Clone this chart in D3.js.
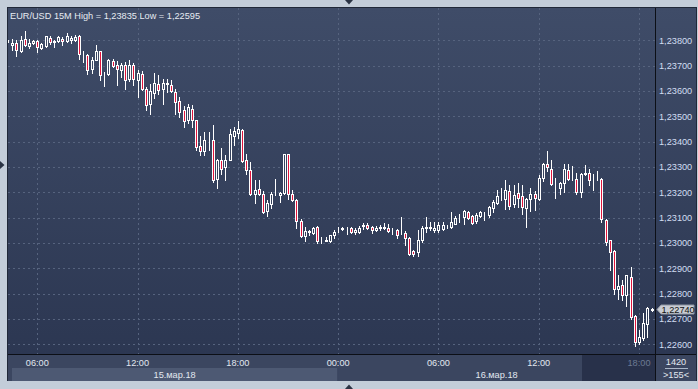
<!DOCTYPE html>
<html>
<head>
<meta charset="utf-8">
<script src="https://cdn.jsdelivr.net/npm/d3@7"></script>
<style>
	body { margin: 0; background: #c3cdd9; }
	svg { display: block; }
	text { font-family: "Liberation Sans", Arial, sans-serif; font-size: 9.2px; }
</style>
</head>
<body>
<div id="chart"></div>
<script>
// chart data
var title = "EUR/USD 15M  High = 1,23835 Low = 1,22595";
var firstBar = "2018-03-15 04:15";
var barMinutes = 15;
var dayLabels = ["15.мар.18", "16.мар.18"];
var lastPrice = 1.22740;
var scrollPos = "1420";
var barsShown = ">155<";

var open = [1.23797,1.23783,1.23791,1.23757,1.23804,1.23777,1.23791,1.23796,1.23770,1.23777,
	1.23811,1.23795,1.23797,1.23804,1.23796,1.23800,1.23800,1.23817,1.23745,1.23741,
	1.23685,1.23724,1.23757,1.23666,1.23668,1.23717,1.23701,1.23684,1.23704,1.23646,
	1.23701,1.23645,1.23668,1.23609,1.23550,1.23592,1.23629,1.23609,1.23630,1.23622,
	1.23596,1.23559,1.23524,1.23484,1.23530,1.23484,1.23381,1.23363,1.23404,1.23405,
	1.23251,1.23329,1.23300,1.23329,1.23422,1.23434,1.23445,1.23326,1.23289,1.23192,
	1.23214,1.23195,1.23126,1.23152,1.23193,1.23191,1.23197,1.23350,1.23195,1.23171,
	1.23086,1.23026,1.23044,1.23040,1.23062,1.23009,1.23009,1.23007,1.23032,1.23051,
	1.23057,1.23059,1.23060,1.23043,1.23043,1.23068,1.23069,1.23062,1.23050,1.23061,
	1.23061,1.23060,1.23051,1.23052,1.23040,1.23041,1.23021,1.22967,1.22964,1.23010,
	1.23061,1.23061,1.23050,1.23050,1.23056,1.23065,1.23062,1.23076,1.23101,1.23102,
	1.23122,1.23105,1.23086,1.23105,1.23115,1.23112,1.23139,1.23157,1.23176,1.23175,
	1.23204,1.23152,1.23198,1.23184,1.23138,1.23175,1.23192,1.23175,1.23258,1.23310,
	1.23293,1.23229,1.23218,1.23236,1.23289,1.23256,1.23254,1.23201,1.23271,1.23277,
	1.23253,1.23256,1.23254,1.23089,1.23010,1.22967,1.22819,1.22836,1.22796,1.22865,
	1.22711,1.22608,1.22626,1.22681,1.22734];
var high = [1.23800,1.23804,1.23800,1.23817,1.23835,1.23804,1.23800,1.23800,1.23791,1.23817,
	1.23817,1.23803,1.23817,1.23813,1.23830,1.23817,1.23822,1.23822,1.23757,1.23744,
	1.23734,1.23780,1.23757,1.23675,1.23728,1.23725,1.23718,1.23712,1.23714,1.23721,
	1.23712,1.23682,1.23678,1.23616,1.23626,1.23672,1.23662,1.23649,1.23649,1.23645,
	1.23606,1.23576,1.23539,1.23547,1.23543,1.23486,1.23421,1.23437,1.23438,1.23464,
	1.23333,1.23376,1.23346,1.23451,1.23458,1.23481,1.23451,1.23353,1.23319,1.23247,
	1.23250,1.23204,1.23168,1.23201,1.23251,1.23200,1.23352,1.23352,1.23211,1.23175,
	1.23096,1.23062,1.23053,1.23062,1.23065,1.23023,1.23023,1.23032,1.23050,1.23062,
	1.23062,1.23062,1.23062,1.23060,1.23065,1.23080,1.23078,1.23066,1.23065,1.23069,
	1.23080,1.23076,1.23060,1.23056,1.23102,1.23048,1.23023,1.22974,1.23050,1.23065,
	1.23102,1.23082,1.23082,1.23082,1.23082,1.23069,1.23122,1.23105,1.23115,1.23131,
	1.23128,1.23109,1.23119,1.23128,1.23122,1.23144,1.23168,1.23211,1.23217,1.23250,
	1.23227,1.23227,1.23238,1.23227,1.23176,1.23218,1.23205,1.23267,1.23315,1.23362,
	1.23329,1.23258,1.23240,1.23310,1.23310,1.23302,1.23277,1.23276,1.23306,1.23293,
	1.23271,1.23284,1.23256,1.23093,1.23012,1.22971,1.22872,1.22852,1.22875,1.22905,
	1.22714,1.22657,1.22724,1.22749,1.22742];
var low = [1.23794,1.23760,1.23738,1.23754,1.23777,1.23770,1.23784,1.23754,1.23767,1.23773,
	1.23787,1.23773,1.23793,1.23780,1.23793,1.23791,1.23797,1.23725,1.23714,1.23665,
	1.23671,1.23721,1.23642,1.23620,1.23662,1.23694,1.23625,1.23655,1.23606,1.23639,
	1.23625,1.23576,1.23605,1.23524,1.23510,1.23572,1.23589,1.23550,1.23596,1.23596,
	1.23510,1.23497,1.23458,1.23472,1.23456,1.23366,1.23346,1.23346,1.23366,1.23240,
	1.23217,1.23271,1.23247,1.23326,1.23385,1.23416,1.23319,1.23271,1.23188,1.23156,
	1.23188,1.23119,1.23105,1.23139,1.23188,1.23161,1.23195,1.23175,1.23164,1.23059,
	1.23023,1.23007,1.23032,1.23036,1.23001,1.23001,1.23006,1.23003,1.23021,1.23043,
	1.23050,1.23034,1.23039,1.23036,1.23040,1.23056,1.23056,1.23039,1.23047,1.23053,
	1.23056,1.23043,1.23036,1.23019,1.23036,1.22990,1.22951,1.22948,1.22948,1.23003,
	1.23043,1.23052,1.23043,1.23043,1.23052,1.23060,1.23060,1.23074,1.23082,1.23076,
	1.23096,1.23076,1.23080,1.23102,1.23089,1.23102,1.23122,1.23155,1.23171,1.23135,
	1.23135,1.23142,1.23142,1.23115,1.23062,1.23128,1.23132,1.23171,1.23244,1.23284,
	1.23227,1.23179,1.23195,1.23201,1.23250,1.23247,1.23192,1.23181,1.23270,1.23227,
	1.23208,1.23247,1.23082,1.22990,1.22892,1.22800,1.22780,1.22776,1.22753,1.22701,
	1.22595,1.22602,1.22618,1.22628,1.22732];
var close = [1.23798,1.23791,1.23760,1.23800,1.23783,1.23791,1.23796,1.23773,1.23784,1.23816,
	1.23793,1.23796,1.23813,1.23796,1.23816,1.23811,1.23813,1.23744,1.23744,1.23684,
	1.23724,1.23757,1.23662,1.23665,1.23721,1.23698,1.23688,1.23701,1.23645,1.23704,
	1.23646,1.23671,1.23609,1.23546,1.23599,1.23633,1.23605,1.23631,1.23629,1.23599,
	1.23556,1.23518,1.23480,1.23535,1.23484,1.23379,1.23363,1.23405,1.23402,1.23247,
	1.23329,1.23293,1.23329,1.23429,1.23441,1.23451,1.23322,1.23289,1.23192,1.23211,
	1.23192,1.23122,1.23159,1.23195,1.23195,1.23198,1.23350,1.23195,1.23171,1.23086,
	1.23026,1.23049,1.23046,1.23060,1.23007,1.23007,1.23010,1.23030,1.23045,1.23052,
	1.23059,1.23060,1.23043,1.23052,1.23060,1.23069,1.23060,1.23050,1.23060,1.23062,
	1.23062,1.23047,1.23052,1.23032,1.23041,1.23021,1.22958,1.22958,1.23010,1.23060,
	1.23062,1.23062,1.23060,1.23072,1.23072,1.23066,1.23082,1.23100,1.23102,1.23126,
	1.23100,1.23080,1.23112,1.23122,1.23116,1.23142,1.23161,1.23184,1.23177,1.23210,
	1.23144,1.23188,1.23179,1.23142,1.23175,1.23192,1.23179,1.23258,1.23310,1.23300,
	1.23231,1.23230,1.23236,1.23293,1.23254,1.23257,1.23201,1.23271,1.23277,1.23250,
	1.23254,1.23257,1.23093,1.23003,1.22964,1.22819,1.22832,1.22793,1.22872,1.22707,
	1.22608,1.22628,1.22683,1.22744,1.22740];

// Define margins
var W = 698, H = 389;
var margin = {top: 8, right: 43, bottom: 35, left: 8},
	width = W - margin.left - margin.right,
	height = H - margin.top - margin.bottom;

var parse = d3.timeParse("%Y-%m-%d %H:%M");
var t0 = parse(firstBar);
var rows = open.map((o, i) => ({
	date: d3.timeMinute.offset(t0, i * barMinutes),
	open: o, high: high[i], low: low[i], close: close[i]
}));

var svg = d3.select("#chart")
	.append("svg")
	.attr("width", W)
	.attr("height", H);

var defs = svg.append("defs");
var grad = defs.append("linearGradient")
	.attr("id", "bg")
	.attr("gradientUnits", "userSpaceOnUse")
	.attr("x1", 0).attr("y1", margin.top).attr("x2", 0).attr("y2", margin.top + height);
grad.append("stop").attr("offset", "0%").attr("stop-color", "#3f4c68");
grad.append("stop").attr("offset", "100%").attr("stop-color", "#2c3752");
defs.append("clipPath").attr("id", "clip")
	.append("rect").attr("width", width).attr("height", height);

// panel background
svg.append("rect")
	.attr("x", 7.5).attr("y", 7.5)
	.attr("width", 689).attr("height", 373)
	.attr("fill", "url(#bg)")
	.attr("stroke", "#202838");

// scales
var xScale = d3.scaleTime()
	.domain([parse("2018-03-15 06:00"), parse("2018-03-16 18:00")])
	.range([29.3, 631]);
var yScale = d3.scaleLinear()
	.domain([1.226, 1.238])
	.range([336.3, 32.3]);

var g = svg.append("g")
	.attr("transform", "translate(" + margin.left + "," + margin.top + ")");

// grid
var timeTicks = xScale.ticks(d3.timeHour.every(6));
var priceTicks = yScale.ticks(12);
g.append("g").selectAll("line.v")
	.data(timeTicks).enter().append("line")
	.attr("x1", d => Math.round(xScale(d)) + 0.5)
	.attr("x2", d => Math.round(xScale(d)) + 0.5)
	.attr("y1", 0).attr("y2", height)
	.attr("stroke", "#56637e")
	.attr("stroke-dasharray", "2,3");
g.append("g").selectAll("line.h")
	.data(priceTicks).enter().append("line")
	.attr("x1", 0).attr("x2", width)
	.attr("y1", d => Math.round(yScale(d)) + 0.5)
	.attr("y2", d => Math.round(yScale(d)) + 0.5)
	.attr("stroke", "#56637e")
	.attr("stroke-dasharray", "2,3");

// candles
var cx = d => Math.round(xScale(d.date));
var candles = g.append("g")
	.attr("clip-path", "url(#clip)")
	.selectAll("g.candle")
	.data(rows).enter().append("g");
candles.append("line")
	.attr("x1", d => cx(d) + 0.5).attr("x2", d => cx(d) + 0.5)
	.attr("y1", d => Math.round(yScale(d.high)))
	.attr("y2", d => Math.round(yScale(d.low)) + 1)
	.attr("stroke", "#ffffff");
candles.append("rect")
	.attr("x", d => cx(d) - 0.5)
	.attr("y", d => Math.round(yScale(Math.max(d.open, d.close))) + 0.5)
	.attr("width", 2)
	.attr("height", d => Math.max(0, Math.round(yScale(Math.min(d.open, d.close))) - Math.round(yScale(Math.max(d.open, d.close)))))
	.attr("fill", d => d.close >= d.open ? "url(#bg)" : "#e0143c")
	.attr("stroke", "#ffffff");

// bottom time strip
var stripY = margin.top + height + 1;
svg.append("rect").attr("x", 8).attr("y", stripY).attr("width", width).attr("height", 26).attr("fill", "#3b4660");
var dayStart = [12, xScale(parse("2018-03-16 00:00")) + margin.left];
var dayEnd = [dayStart[1] - 1, margin.left + width];
svg.selectAll("rect.day").data(dayLabels).enter().append("rect")
	.attr("x", (d, i) => dayStart[i])
	.attr("y", stripY + 13)
	.attr("width", (d, i) => dayEnd[i] - dayStart[i])
	.attr("height", 13)
	.attr("fill", (d, i) => i == 0 ? "#4d5973" : "#3b4660");
// region after last bar
var futureX = 582;
svg.append("rect").attr("x", futureX).attr("y", stripY).attr("width", margin.left + width - futureX).attr("height", 26).attr("fill", "#28314a");

svg.selectAll("text.time").data(timeTicks).enter().append("text")
	.attr("x", d => xScale(d) + margin.left)
	.attr("y", stripY + 11)
	.attr("text-anchor", "middle")
	.attr("fill", d => xScale(d) + margin.left > futureX ? "#6c7a92" : "#e2e8f0")
	.text(d3.timeFormat("%H:%M"));
svg.selectAll("text.day").data(dayLabels).enter().append("text")
	.attr("x", (d, i) => (dayStart[i] + dayEnd[i]) / 2)
	.attr("y", stripY + 23)
	.attr("text-anchor", "middle")
	.attr("fill", "#e2e8f0")
	.text(d => d);

// right axis
var fmt = v => d3.format(".5f")(v).replace(".", ",");
svg.selectAll("text.price").data(priceTicks).enter().append("text")
	.attr("x", 659)
	.attr("y", d => yScale(d) + margin.top)
	.attr("dy", "0.35em")
	.attr("fill", "#d2def2")
	.text(fmt);

// frame lines
svg.append("line").attr("x1", 655.5).attr("x2", 655.5).attr("y1", 8).attr("y2", 381).attr("stroke", "#0c0f16");
svg.append("line").attr("x1", 8).attr("x2", 696).attr("y1", stripY - 0.5).attr("y2", stripY - 0.5).attr("stroke", "#0c0f16");

// bottom right box
svg.append("rect").attr("x", 656).attr("y", stripY).attr("width", 40).attr("height", 26).attr("fill", "#3b4660");
svg.append("text").attr("x", 676).attr("y", stripY + 10).attr("text-anchor", "middle").attr("fill", "#e2e8f0").text(scrollPos);
svg.append("line").attr("x1", 665).attr("x2", 688).attr("y1", stripY + 13.5).attr("y2", stripY + 13.5).attr("stroke", "#aab6c8");
svg.append("text").attr("x", 676).attr("y", stripY + 23).attr("text-anchor", "middle").attr("fill", "#e2e8f0").text(barsShown);

// last price tag
var ly = Math.round(yScale(lastPrice) + margin.top) + 0.5;
svg.append("path")
	.attr("d", "M657," + ly + "L661," + (ly - 4.5) + "H694V" + (ly + 4.5) + "H661Z")
	.attr("fill", "#c9cdd4")
	.attr("stroke", "#8f96a2");
svg.append("text").attr("x", 661.5).attr("y", ly).attr("dy", "0.35em").attr("fill", "#111").text(fmt(lastPrice));

// title
svg.append("text").attr("x", 10).attr("y", 18.5).attr("fill", "#e6ebf2").text(title);

// scroll markers
svg.append("path").attr("d", "M345,0H353L349,4.5Z").attr("fill", "#2a3344");
svg.append("path").attr("d", "M345,389H353L349,384.5Z").attr("fill", "#2a3344");
svg.append("path").attr("d", "M0,161V169L4.5,165Z").attr("fill", "#2a3344");
</script>
</body>
</html>
